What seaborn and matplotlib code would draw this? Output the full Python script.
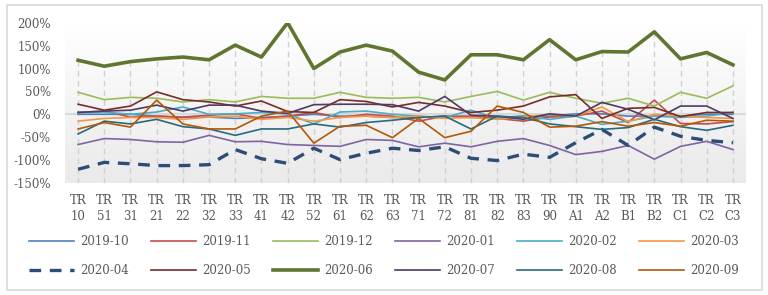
import numpy as np
import pandas as pd
import matplotlib
matplotlib.use("Agg")
import matplotlib.pyplot as plt
from matplotlib.patches import Rectangle
from matplotlib.colors import LinearSegmentedColormap
import seaborn as sns

categories = ["TR\n10", "TR\n51", "TR\n31", "TR\n21", "TR\n22", "TR\n32", "TR\n33", "TR\n41",
              "TR\n42", "TR\n52", "TR\n61", "TR\n62", "TR\n63", "TR\n71", "TR\n72", "TR\n81",
              "TR\n82", "TR\n83", "TR\n90", "TR\nA1", "TR\nA2", "TR\nB1", "TR\nB2", "TR\nC1",
              "TR\nC2", "TR\nC3"]

s_2019_10 = [0, 0, 0, -4, -7, -6, -9, -7, -4, 0, -4, -4, -7, -7, -4, -7, -7, -4, -4, 1, 1, -4, -4, -4, 0, 0]
s_2019_11 = [4, 7, -6, -4, -6, -2, 1, -9, -4, 4, -7, 0, -4, -15, -4, -4, -9, -15, -6, -4, 7, -18, 31, -20, -21, -16]
s_2019_12 = [48, 32, 37, 35, 27, 32, 27, 39, 35, 35, 48, 37, 35, 37, 27, 39, 50, 31, 48, 35, 24, 35, 18, 48, 35, 62]
s_2020_01 = [-66, -53, -55, -60, -61, -46, -60, -59, -66, -68, -70, -55, -57, -71, -63, -71, -59, -53, -68, -88, -81, -68, -98, -70, -59, -77]
s_2020_02 = [4, 5, 0, 5, 16, 0, 1, 4, 1, -21, 5, 7, 0, -4, -7, 9, -9, -4, -11, -4, -22, -15, -4, -7, -4, 4]
s_2020_03 = [-15, -9, -7, -7, -11, -6, -4, -11, -7, -15, -7, -4, -7, -4, -9, -7, -11, -6, 0, -4, 16, -16, 0, -4, -7, -9]
s_2020_04 = [-120, -105, -108, -112, -112, -110, -77, -97, -107, -74, -99, -85, -74, -79, -71, -96, -101, -87, -94, -62, -33, -68, -28, -48, -57, -62]
s_2020_05 = [22, 9, 18, 49, 32, 27, 18, 29, 6, 4, 32, 28, 16, 26, 18, 4, 9, 18, 38, 43, -9, 13, 15, -5, 4, 4]
s_2020_06 = [118, 105, 115, 121, 125, 119, 151, 125, 200, 100, 136, 151, 138, 92, 75, 130, 130, 119, 163, 119, 137, 136, 180, 121, 135, 108]
s_2020_07 = [4, 7, 9, 20, 7, 20, 20, 7, 2, 21, 22, 22, 21, 7, 39, -2, -4, -11, 1, -4, 26, 11, -12, 18, 18, -9]
s_2020_08 = [-43, -15, -21, -11, -27, -32, -46, -32, -32, -21, -28, -18, -13, -7, -4, -32, -4, -7, -21, -27, -33, -29, -11, -27, -35, -24]
s_2020_09 = [-32, -18, -28, 31, -21, -32, -32, -4, 7, -63, -26, -24, -51, -9, -51, -37, 18, 4, -28, -26, -16, -26, -18, -26, -13, -15]

series_names = ["2019-10", "2019-11", "2019-12", "2020-01", "2020-02", "2020-03",
                "2020-04", "2020-05", "2020-06", "2020-07", "2020-08", "2020-09"]
series_values = [s_2019_10, s_2019_11, s_2019_12, s_2020_01, s_2020_02, s_2020_03,
                 s_2020_04, s_2020_05, s_2020_06, s_2020_07, s_2020_08, s_2020_09]
colors = ["#4F81BD", "#C0504D", "#9BBB59", "#8064A2", "#4BACC6", "#F79646",
          "#2C4D75", "#772C2A", "#5F7530", "#4D3B62", "#276A7C", "#B65708"]
ytick_vals = [-150, -100, -50, 0, 50, 100, 150, 200]
ytick_labels = ["-150%", "-100%", "-50%", "0%", "50%", "100%", "150%", "200%"]

plt.rcParams["font.family"] = ["DejaVu Serif"]
TXT = "#595959"

fig = plt.figure(figsize=(7.68, 2.95), dpi=100)
fig.patches.append(Rectangle((7 / 768, 1 - 290 / 295), 755 / 768, 285 / 295,
                             transform=fig.transFigure, fill=False,
                             edgecolor="#D9D9D9", linewidth=1.2, zorder=0))

ax = fig.add_axes([65 / 768, 1 - 183 / 295, (746 - 65) / 768, (183 - 22.7) / 295])
ax.set_xlim(-0.5, len(categories) - 0.5)
ax.set_ylim(-150, 200)

# gradient background
grad = np.linspace(1, 0, 256).reshape(-1, 1)
cmap = LinearSegmentedColormap.from_list("g", ["#EAEAEA", "#FFFFFF"])
ax.imshow(grad, extent=(-0.5, len(categories) - 0.5, -150, 200), aspect="auto",
          cmap=cmap, origin="upper", zorder=0)

x = np.arange(len(categories))
# drop lines from highest point to axis
maxv = np.max(np.array(series_values), axis=0)
ax.vlines(x, -150, maxv, colors="#D0D0D0", linestyles=(0, (4, 3)), linewidth=1.0, zorder=1)
ax.axhline(0, color="#D9D9D9", linewidth=1.5, zorder=1)

for name, vals, col in zip(series_names, series_values, colors):
    df = pd.DataFrame({"x": x, "v": vals})
    lw = 1.2
    if name == "2020-06":
        lw = 2.6
    if name == "2020-04":
        lw = 2.4
    sns.lineplot(data=df, x="x", y="v", ax=ax, color=col, linewidth=lw, label=name, zorder=3)
    if name == "2020-04":
        ax.lines[-1].set_dashes((3.5, 2.6))

ax.get_legend().remove()
ax.set_xlabel("")
ax.set_ylabel("")
ax.set_xticks(x)
ax.set_xticklabels(categories, color=TXT, fontsize=8.5, linespacing=1.3)
ax.set_yticks(ytick_vals)
ax.set_yticklabels(ytick_labels, color=TXT, fontsize=8.5)
ax.tick_params(axis="both", length=0)
ax.tick_params(axis="x", pad=8)
ax.tick_params(axis="y", pad=10)
for sp in ax.spines.values():
    sp.set_visible(False)

handles, labels = ax.get_legend_handles_labels()
ncol = 6
order = [r * ncol + c for c in range(ncol) for r in range(2)]
handles = [handles[i] for i in order]
labels = [labels[i] for i in order]
leg = fig.legend(handles, labels, loc="center", bbox_to_anchor=(0.5, 1 - 256 / 295),
                 ncol=ncol, frameon=False, fontsize=8.5, handlelength=3.8,
                 handletextpad=0.5, columnspacing=1.9, labelspacing=1.4)
for t in leg.get_texts():
    t.set_color(TXT)

fig.savefig("out.png", dpi=100)
